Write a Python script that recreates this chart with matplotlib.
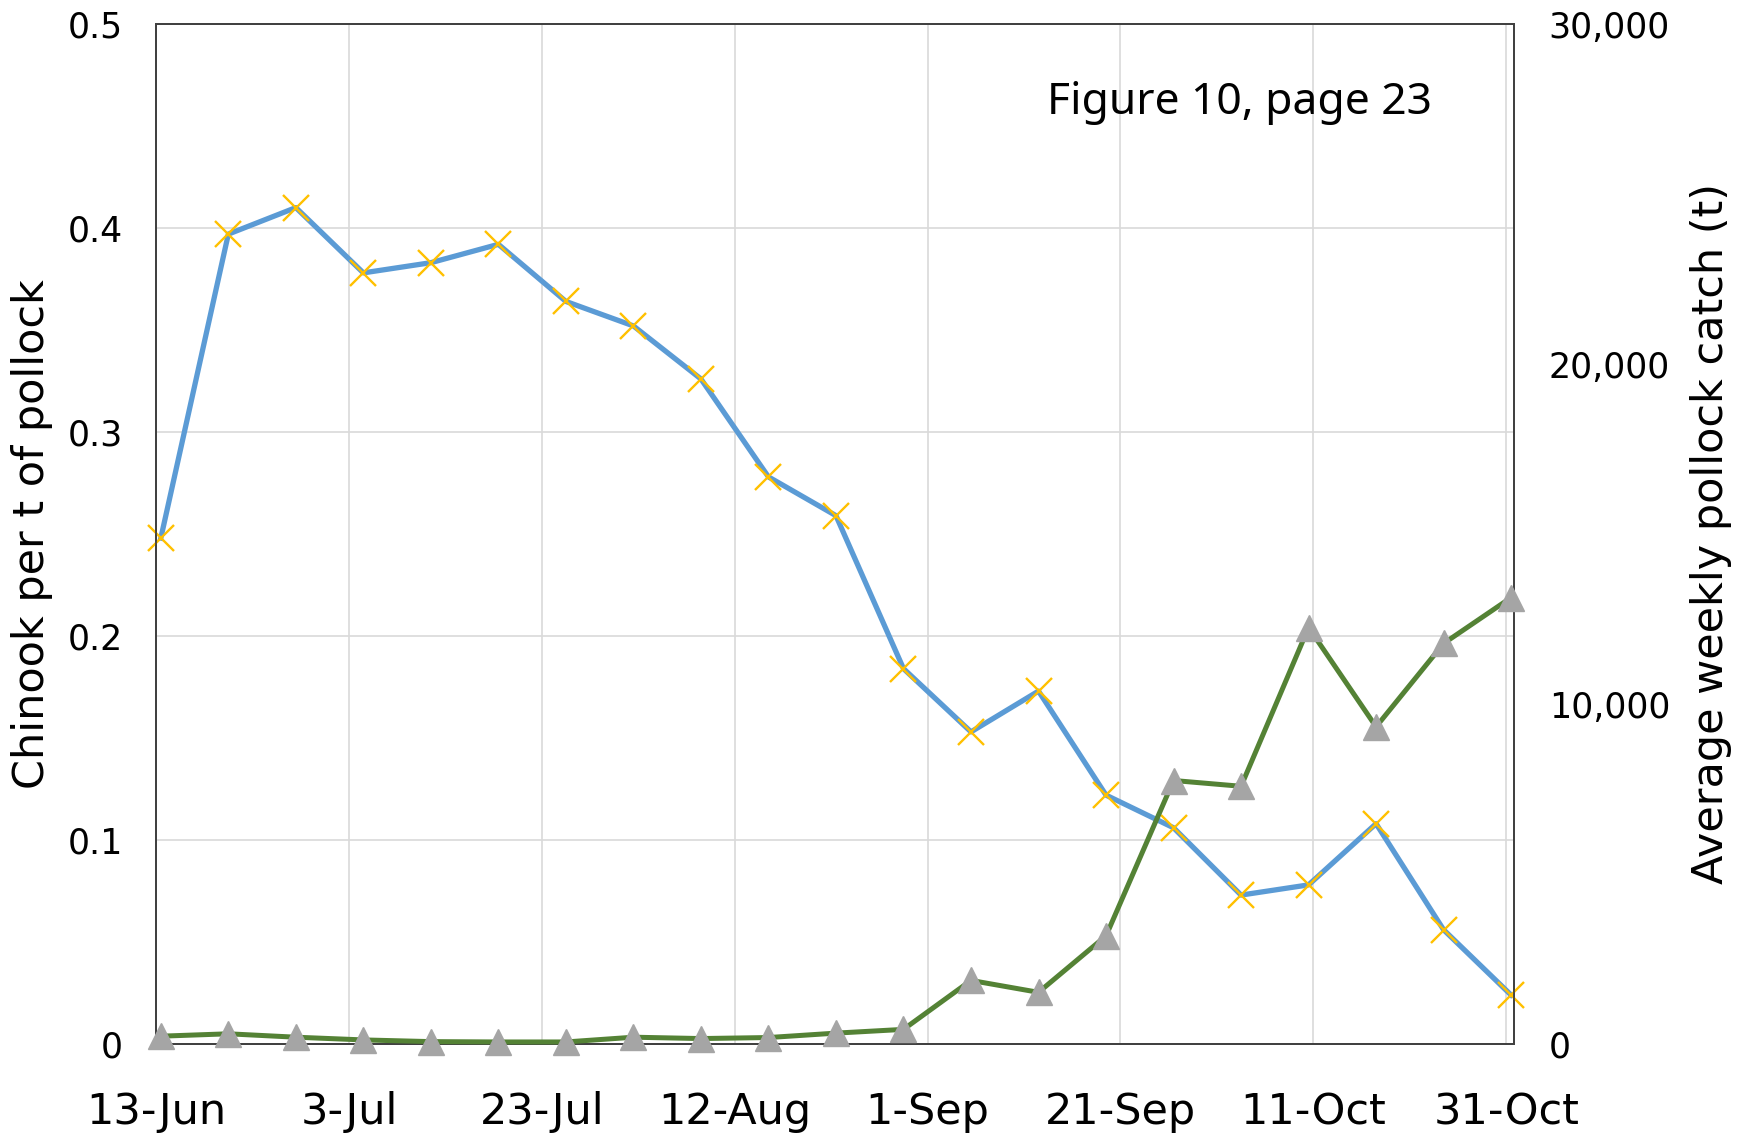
import matplotlib
matplotlib.use("Agg")
import matplotlib.pyplot as plt
import numpy as np
import pandas as pd
from matplotlib.ticker import FuncFormatter, MultipleLocator

# weekly observations (points sit at mid-day)
week_start = pd.date_range("2023-06-13", periods=21, freq="7D") + pd.Timedelta(hours=12)

chinook_per_t = [0.248, 0.397, 0.410, 0.378, 0.383, 0.392, 0.364, 0.352, 0.326, 0.278,
                 0.259, 0.184, 0.153, 0.173, 0.122, 0.106, 0.073, 0.078, 0.108, 0.056, 0.024]
pollock_catch = [230, 300, 200, 120, 70, 60, 60, 200, 160, 190,
                 320, 430, 1870, 1520, 3180, 7750, 7580, 12250, 9330, 11780, 13130]

x_tick_dates = pd.date_range("2023-06-13", "2023-10-31", freq="20D")
x_tick_labels = [d.strftime("%-d-%b") for d in x_tick_dates]


def main():
    fig = plt.figure(figsize=(17.52, 11.36), dpi=100)
    ax = fig.add_axes([156 / 1752, 1 - 1044 / 1136, (1514 - 156) / 1752, (1044 - 24) / 1136])
    ax2 = ax.twinx()

    x0 = pd.Timestamp("2023-06-13")
    ax.set_xlim(x0, x0 + pd.Timedelta(days=140.8))
    ax.set_ylim(0, 0.5)
    ax2.set_ylim(0, 30000)

    ax.set_xticks(x_tick_dates, x_tick_labels)
    ax.yaxis.set_major_locator(MultipleLocator(0.1))
    ax.yaxis.set_major_formatter(FuncFormatter(lambda v, _: "0" if v == 0 else f"{v:.1f}"))
    ax2.yaxis.set_major_locator(MultipleLocator(10000))
    ax2.yaxis.set_major_formatter(FuncFormatter(lambda v, _: f"{v:,.0f}"))

    ax.grid(True, color="#d9d9d9", linewidth=1.2)
    ax.set_axisbelow(True)

    ax.plot(week_start, chinook_per_t, color="#5b9bd5", linewidth=3.8,
            marker="x", markersize=19, markeredgewidth=1.7,
            markeredgecolor="#ffc000", clip_on=False, zorder=3)
    ax2.plot(week_start, pollock_catch, color="#548235", linewidth=3.6,
             marker="^", markersize=19, markerfacecolor="#a5a5a5",
             markeredgecolor="#a5a5a5", clip_on=False, zorder=3)

    for a in (ax, ax2):
        a.tick_params(length=0, labelsize=25)
        for s in a.spines.values():
            s.set_color("#404040")
            s.set_linewidth(1.3)
    ax.tick_params(axis="y", pad=24)
    ax2.tick_params(axis="y", pad=25)
    ax.tick_params(axis="x", labelsize=31, pad=34)

    ax.set_ylabel("Chinook per t of pollock", fontsize=31, labelpad=10)
    ax2.set_ylabel("Average weekly pollock catch (t)", fontsize=31, labelpad=14)

    ax.text(0.7975, 0.923, "Figure 10, page 23", transform=ax.transAxes,
            ha="center", va="center", fontsize=32, family="Noto Sans")

    fig.savefig("out.png", dpi=100)
    plt.close(fig)


if __name__ == "__main__":
    main()
